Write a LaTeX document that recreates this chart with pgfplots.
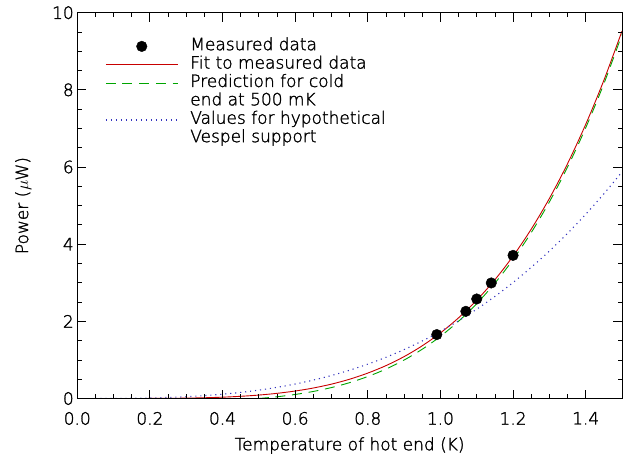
\documentclass[border=0pt]{standalone}
\usepackage{fontspec}
\setmainfont{DejaVu Sans ExtraLight}[AutoFakeBold=1.5]
\usepackage{pgfplots}
\pgfplotsset{compat=1.18}
\definecolor{fitred}{RGB}{200,0,0}
\definecolor{predgreen}{RGB}{0,165,0}
\definecolor{vespblue}{RGB}{50,50,190}
\newcommand{\lbl}{\fontsize{17}{20}\selectfont\bfseries}
\pgfplotsset{
  markleg/.style={legend image code/.code={\path[draw=none, fill=none] (0pt,-1pt) rectangle (72pt,1pt); \fill[black] (36pt,0pt) circle[radius=5.3pt];}},
  lineleg/.style={legend image code/.code={\draw[##1] (0pt,0pt) -- (72pt,0pt);}},
}

\begin{document}
\begin{tikzpicture}
\begin{axis}[
  scale only axis, width=545pt, height=386pt,
  xmin=0, xmax=1.5, ymin=0, ymax=10,
  xtick={0,0.2,0.4,0.6,0.8,1.0,1.2,1.4},
  ytick={0,2,4,6,8,10},
  minor x tick num=3, minor y tick num=3,
  tick align=inside,
  major tick length=9pt, minor tick length=4.5pt,
  tick style={black, line width=0.8pt},
  axis on top,
  xticklabels={0.0,0.2,0.4,0.6,0.8,1.0,1.2,1.4},
  yticklabels={0,2,4,6,8,10},
  tick label style={font=\lbl},
  xticklabel style={yshift=-10pt},
  label style={font=\lbl},
  xlabel={Temperature of hot end (K)},
  ylabel={Power ($\mu$W)},
  xlabel style={at={(axis description cs:0.5,-0.122)}, anchor=center},
  ylabel style={at={(axis description cs:-0.099,0.5)}, anchor=center},
  legend cell align=left,
  legend style={at={(axis description cs:0.051,0.937)}, anchor=north west,
    draw=none, fill=none, inner sep=0pt, column sep=12pt, row sep=0pt,
    font=\lbl, nodes={inner sep=0pt, text height=13pt, text depth=5.4pt}},
]

% measured points
\addplot[only marks, mark=*, mark size=5.3pt, black, markleg]
  coordinates {(0.99,1.657) (1.07,2.26) (1.10,2.58) (1.14,2.995) (1.20,3.71)};
\addlegendentry{Measured data}

% fit
\addplot[fitred, line width=0.9pt, smooth, lineleg] coordinates {
  (0.05,0.0000) (0.10,0.0001) (0.15,0.0005) (0.20,0.0018) (0.25,0.0047)
  (0.30,0.0102) (0.35,0.0196) (0.40,0.0346) (0.45,0.0571) (0.50,0.0894)
  (0.55,0.134) (0.60,0.194) (0.65,0.272) (0.70,0.373) (0.75,0.500)
  (0.80,0.659) (0.85,0.852) (0.90,1.086) (0.95,1.367) (1.00,1.700)
  (1.05,2.092) (1.10,2.549) (1.15,3.079) (1.20,3.690) (1.25,4.389)
  (1.30,5.184) (1.35,6.086) (1.40,7.104) (1.45,8.246) (1.50,9.525)
};
\addlegendentry{Fit to measured data}

% cold end 500 mK
\addplot[predgreen, line width=0.9pt, dash pattern=on 10pt off 6.7pt, smooth, lineleg] coordinates {
  (0.50,0.000) (0.55,0.045) (0.60,0.105) (0.65,0.183) (0.70,0.284)
  (0.75,0.411) (0.80,0.570) (0.85,0.763) (0.90,0.997) (0.95,1.278)
  (1.00,1.611) (1.05,2.003) (1.10,2.460) (1.15,2.990) (1.20,3.601)
  (1.25,4.300) (1.30,5.095) (1.35,5.997) (1.40,7.015) (1.45,8.157)
  (1.50,9.436)
};
\addlegendentry{Prediction for cold}
\addlegendimage{empty legend}
\addlegendentry{end at 500 mK}

% vespel
\addplot[vespblue, line width=1.1pt, dash pattern=on 1.1pt off 3.9pt, smooth, lineleg] coordinates {
  (0.05,0.0002) (0.10,0.0017) (0.15,0.0059) (0.20,0.0139) (0.25,0.0272)
  (0.30,0.0470) (0.35,0.0746) (0.40,0.1114) (0.45,0.1586) (0.50,0.2175)
  (0.55,0.2895) (0.60,0.3758) (0.65,0.4779) (0.70,0.5968) (0.75,0.7341)
  (0.80,0.8909) (0.85,1.0686) (0.90,1.2685) (0.95,1.4919) (1.00,1.7400)
  (1.05,2.0143) (1.10,2.3159) (1.15,2.6463) (1.20,3.0067) (1.25,3.3984)
  (1.30,3.8228) (1.35,4.2810) (1.40,4.7746) (1.45,5.3047) (1.50,5.8725)
};
\addlegendentry{Values for hypothetical}
\addlegendimage{empty legend}
\addlegendentry{Vespel support}

\end{axis}
\pgfresetboundingbox
\path[use as bounding box] ([shift={(-77.3pt,-57pt)}]current axis.south west) rectangle ([shift={(10pt,12.7pt)}]current axis.north east);
\end{tikzpicture}
\end{document}
